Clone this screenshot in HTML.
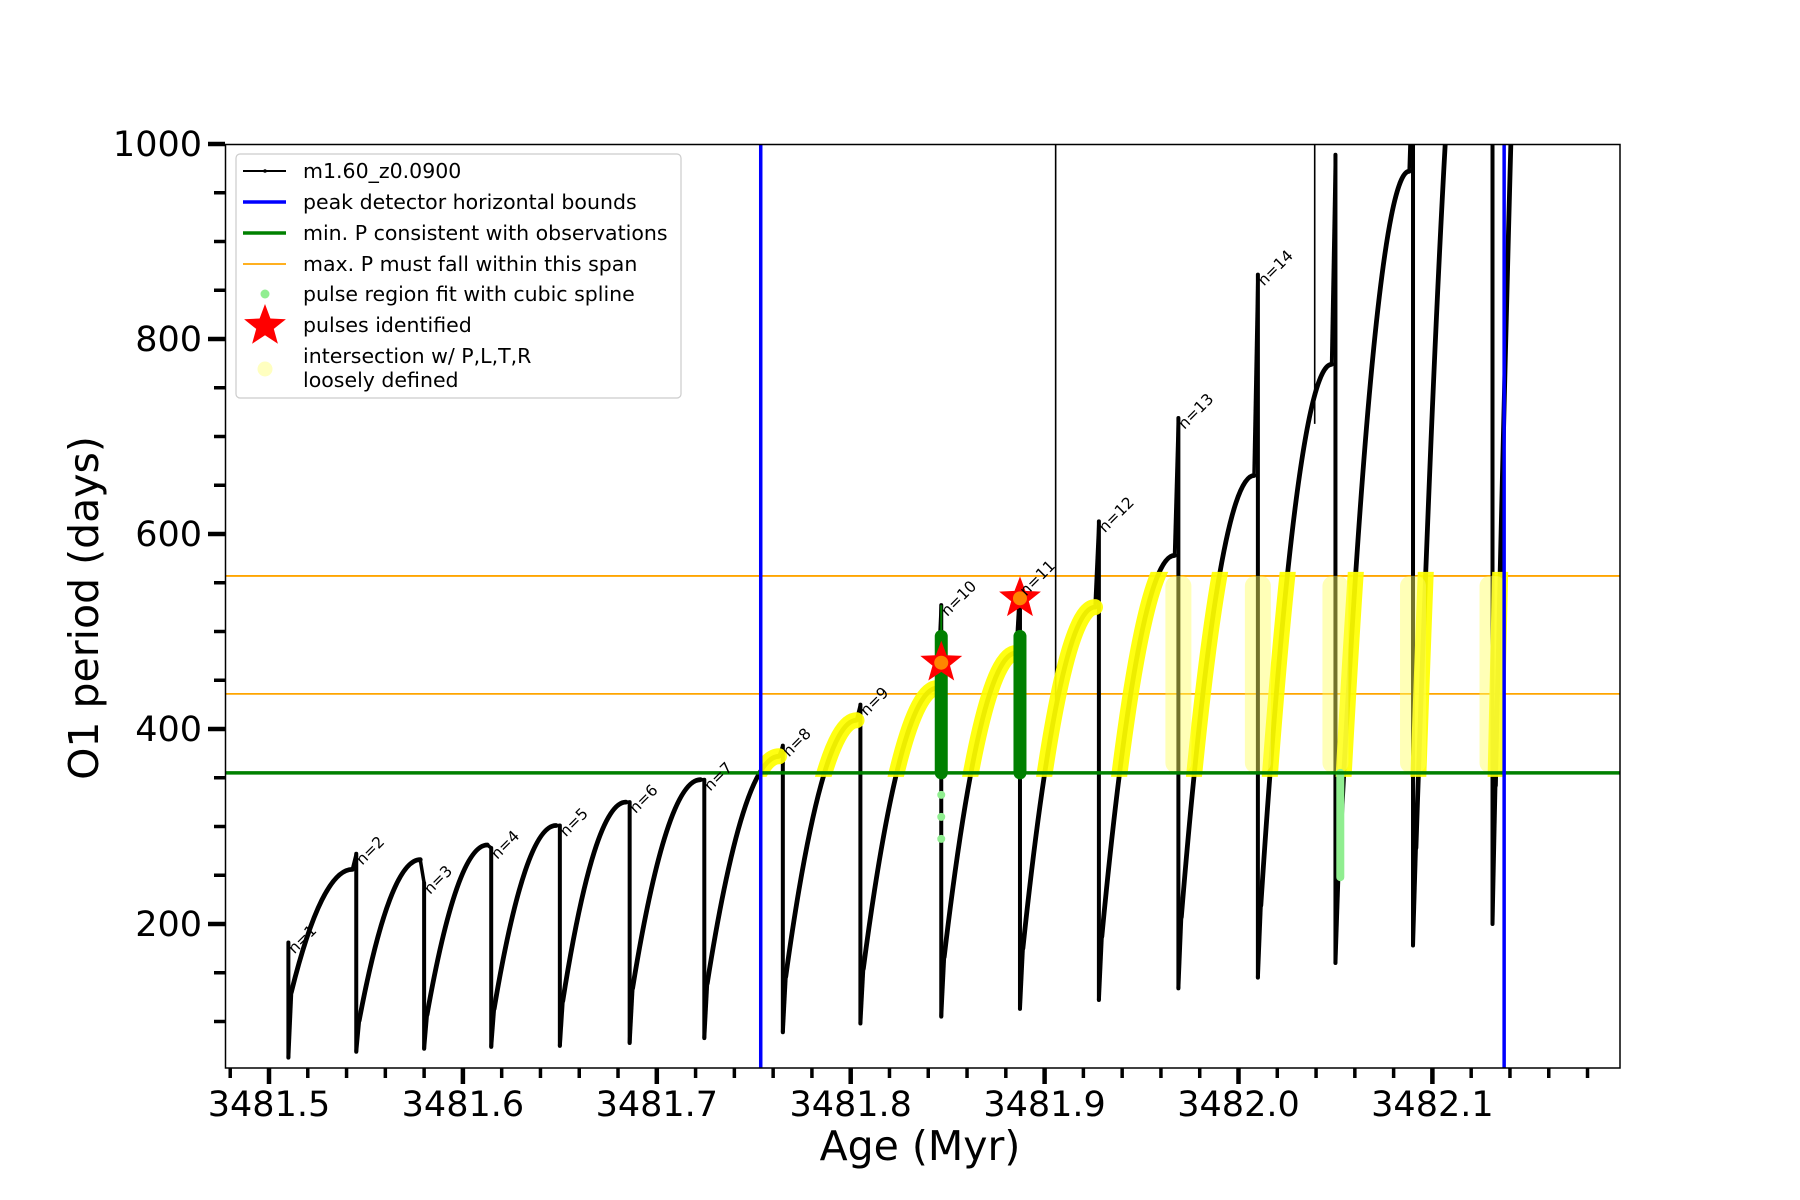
<!DOCTYPE html>
<html><head><meta charset="utf-8"><style>
html,body{margin:0;padding:0;background:#fff;}
svg{display:block;font-family:"DejaVu Sans","Liberation Sans",sans-serif;}
</style></head><body>
<svg id="chart" width="1800" height="1200" viewBox="0 0 1800 1200" xmlns="http://www.w3.org/2000/svg">
<defs><clipPath id="plotclip"><rect x="225.5" y="144.5" width="1394.5" height="923.5"/></clipPath></defs>
<rect x="0" y="0" width="1800" height="1200" fill="#fff"/>
<g id="plot" clip-path="url(#plotclip)"></g>
<rect x="225.5" y="144.5" width="1394.5" height="923.5" fill="none" stroke="#000" stroke-width="1.5"/>
<g id="ticks"></g>
<text x="920" y="1160" font-size="41" text-anchor="middle">Age (Myr)</text>
<text transform="translate(98,608) rotate(-90)" font-size="41" text-anchor="middle">O1 period (days)</text>
<g id="legend">
<rect x="236" y="154" width="445" height="244" rx="4" fill="#fff" fill-opacity="0.85" stroke="#ccc" stroke-width="1.2"/>
<g><line x1="243" y1="171" x2="286" y2="171" stroke="#000" stroke-width="2"/><circle cx="265" cy="171" r="1.8" fill="#000"/><text x="303" y="178" font-size="20.5">m1.60_z0.0900</text></g>
<g><line x1="243" y1="202" x2="286" y2="202" stroke="#0000ff" stroke-width="3.5"/><text x="303" y="209" font-size="20.5">peak detector horizontal bounds</text></g>
<g><line x1="243" y1="233" x2="286" y2="233" stroke="#008000" stroke-width="3.5"/><text x="303" y="240" font-size="20.5">min. P consistent with observations</text></g>
<g><line x1="243" y1="264" x2="286" y2="264" stroke="#ffa500" stroke-width="1.8"/><text x="303" y="271" font-size="20.5">max. P must fall within this span</text></g>
<g><circle cx="265" cy="294" r="4.5" fill="#90ee90"/><text x="303" y="301" font-size="20.5">pulse region fit with cubic spline</text></g>
<g><polygon id="legstar" fill="#ff0000"/><text x="303" y="332" font-size="20.5">pulses identified</text></g>
<g><circle cx="265" cy="369" r="7.5" fill="#ffffc0"/><text x="303" y="363" font-size="20.5">intersection w/ P,L,T,R</text><text x="303" y="387" font-size="20.5">loosely defined</text></g>
</g>
</svg>
<script>
// ---- data ----
const pulseAges = [3481.510,3481.545,3481.580,3481.6146,3481.650,3481.686,3481.7245,3481.765,3481.805,3481.8467,3481.8873,3481.928,3481.969,3482.010,3482.050,3482.090,3482.131];
const spikeTops = [181,272,242,278,301,325,348,383,425,527,548,613,719,866,989,1100,1100];
const dropBottoms = [63,69,72,74,75,78,83,89,98,105,113,122,134,145,160,178,200];
const riseStarts = [130,101,107,113,121,134,139,146,154,166,175,187,207,219,248,278,342];
const risePeaks = [256,266,281,301,325,348,372,409,442,478,525,578,660,774,972,1400,2200];
const lastAge = 3482.175;
const vlineAges = [3481.9057,3482.0393];
const vlineBottoms = [430,713];
const blueBounds = [3481.7536,3482.137];
const minP = 355;
const maxPSpan = [436,557];
const starAges = [3481.8467,3481.8873];
const starValues = [468,534];
const greenPulseAges = [3481.8467,3481.8873];
const greenPulseTops = [495,495];
const splineAges = [3481.8467,3482.0525];
const splineBottoms = [270,248];
const looseAges = [3481.969,3482.010,3482.050,3482.090,3482.131];
const xTickLabels = ["3481.5","3481.6","3481.7","3481.8","3481.9","3482.0","3482.1"];
const yTickLabels = ["200","400","600","800","1000"];

// ---- scales ----
function X(v){return 269 + (v-3481.5)*1939;}
function Y(v){return 924 - (v-200)*0.975;}
const NS="http://www.w3.org/2000/svg";
const plot=document.getElementById('plot');
const ticks=document.getElementById('ticks');
function mk(tag,attrs,parent){const e=document.createElementNS(NS,tag);for(const k in attrs)e.setAttribute(k,attrs[k]);parent.appendChild(e);return e;}

maxPSpan.forEach(v=>{
  const l=mk('line',{x1:225,x2:1620,y1:Y(v),y2:Y(v),stroke:'#ffa500','stroke-width':1.8},plot);
  
  
});

function risePath(i){
  const a0=pulseAges[i]+0.0015;
  const a1=(i+1<pulseAges.length?pulseAges[i+1]:lastAge)-0.002;
  const x0=X(a0),x1=X(a1),y0=Y(riseStarts[i]),y1=Y(risePeaks[i]);
  const cx=x0+(x1-x0)*0.5;
  return `M${x0},${y0} Q${cx},${y1} ${x1},${y1}`;
}
pulseAges.forEach((a,i)=>{
  const sp=mk('line',{x1:X(a),x2:X(a),y1:Y(dropBottoms[i]),y2:Y(spikeTops[i]),stroke:'#000','stroke-width':4,'stroke-linecap':'round'},plot);
  
  
  const cn=mk('path',{d:`M${X(a)},${Y(dropBottoms[i])} L${X(a+0.0015)},${Y(riseStarts[i])}`,stroke:'#000','stroke-width':4,fill:'none'},plot);
  
  
  const r=mk('path',{d:risePath(i),stroke:'#000','stroke-width':4.8,fill:'none','stroke-linecap':'round'},plot);
  
  
  if(i+1<pulseAges.length){
    const j=mk('line',{x1:X(pulseAges[i+1]-0.002),y1:Y(risePeaks[i]),x2:X(pulseAges[i+1]),y2:Y(spikeTops[i+1]),stroke:'#000','stroke-width':3.5},plot);
    
    
  }
});
vlineAges.forEach((a,i)=>{
  const l=mk('line',{x1:X(a),x2:X(a),y1:Y(1000),y2:Y(vlineBottoms[i]),stroke:'#000','stroke-width':1.6},plot);
  
  
});
const defs=document.querySelector('defs');
const cp=mk('clipPath',{id:'yclip'},defs);
mk('rect',{x:X(blueBounds[0]),y:Y(maxPSpan[1])-4,width:1620-X(blueBounds[0]),height:Y(minP)-Y(maxPSpan[1])+8},cp);
const yg=mk('g',{'clip-path':'url(#yclip)'},plot);


pulseAges.forEach((a,i)=>{
  const r=mk('path',{d:risePath(i),stroke:'#ffff00','stroke-opacity':0.93,'stroke-width':16,fill:'none','stroke-linecap':'round'},yg);
  
  
});
looseAges.forEach(a=>{
  const r=mk('rect',{x:X(a)-13,y:Y(maxPSpan[1]),width:26,height:Y(minP)-Y(maxPSpan[1]),fill:'#ffff60','fill-opacity':0.45,rx:10},plot);
  
  
});
splineAges.forEach((a,i)=>{
  const l=mk('line',{x1:X(a),x2:X(a),y1:Y(minP),y2:Y(splineBottoms[i]),stroke:'#90ee90','stroke-width':8,'stroke-linecap':'round','stroke-dasharray':i==0?'0 22':'none'},plot);
  
  
});
greenPulseAges.forEach((a,i)=>{
  const l=mk('line',{x1:X(a),x2:X(a),y1:Y(minP),y2:Y(greenPulseTops[i]),stroke:'#008000','stroke-width':13,'stroke-linecap':'round'},plot);
  
  
});
const gt=mk('line',{x1:X(greenPulseAges[0]),x2:X(greenPulseAges[0]),y1:Y(495),y2:Y(527),stroke:'#008000','stroke-width':2},plot);


const gl=mk('line',{x1:225,x2:1620,y1:Y(minP),y2:Y(minP),stroke:'#008000','stroke-width':3.5},plot);


blueBounds.forEach(a=>{
  const l=mk('line',{x1:X(a),x2:X(a),y1:144,y2:1068,stroke:'#0000ff','stroke-width':3.5},plot);
  
  
});
function starPts(cx,cy,R){const r=R*0.42;let p=[];for(let k=0;k<10;k++){const ang=-Math.PI/2+k*Math.PI/5;const rr=k%2?r:R;p.push((cx+rr*Math.cos(ang)).toFixed(1)+','+(cy+rr*Math.sin(ang)).toFixed(1));}return p.join(' ');}
starAges.forEach((a,i)=>{
  const s=mk('polygon',{points:starPts(X(a),Y(starValues[i]),22),fill:'#ff0000'},plot);
  
  
  const c=mk('circle',{cx:X(a),cy:Y(starValues[i]),r:7,fill:'#ffa500','fill-opacity':0.8},plot);
  
  
});
document.getElementById('legstar').setAttribute('points',starPts(265,326,22));
pulseAges.slice(0,14).forEach((a,i)=>{
  const top=Math.min(spikeTops[i],1000);
  const x=X(a)+6,y=Y(top)+12;
  const t=mk('text',{x:x,y:y,'font-size':15.5,transform:`rotate(-45 ${x} ${y})`,fill:'#000'},plot);
  t.textContent='n='+(i+1);
  
  
});
for(let k=0;k<=35;k++){
  const v=3481.48+k*0.02;
  const major=Math.abs(((v-3481.5)/0.1)-Math.round((v-3481.5)/0.1))<1e-6;
  const x=X(v);
  const l=mk('line',{x1:x,x2:x,y1:1068,y2:1068+(major?16:10),stroke:'#000','stroke-width':major?4.5:3.5},ticks);
  
  
}
xTickLabels.forEach(s=>{
  const t=mk('text',{x:X(parseFloat(s)),y:1116,'font-size':35,'text-anchor':'middle'},ticks);
  t.textContent=s;
  
  
});
for(let v=100;v<=1000;v+=50){
  const major=v%200===0;
  const y=Y(v);
  const l=mk('line',{x1:225-(major?17:11),x2:225,y1:y,y2:y,stroke:'#000','stroke-width':major?4.5:3.5},ticks);
  
  
}
yTickLabels.forEach(s=>{
  const t=mk('text',{x:202,y:Y(parseFloat(s))+12,'font-size':35,'text-anchor':'end'},ticks);
  t.textContent=s;
  
  
});
</script>
</body></html>
